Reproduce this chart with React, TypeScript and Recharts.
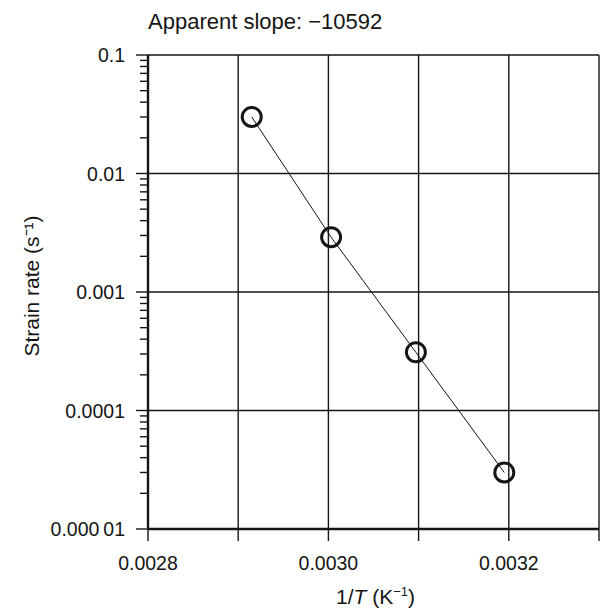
import React from "react";
import {
  LineChart, Line, XAxis, YAxis, CartesianGrid, ReferenceLine,
} from "recharts";

// measured points: 1/T (K^-1) vs strain rate (s^-1)
const invT = [0.002915, 0.003003, 0.003097, 0.003195];
const strainRate = [0.03, 0.0029, 0.00031, 0.00003];

const xTicks = [0.0028, 0.0029, 0.003, 0.0031, 0.0032, 0.0033];
const xTickLabels = ["0.0028", "", "0.0030", "", "0.0032", ""];

const yDecades = [0.00001, 0.0001, 0.001, 0.01, 0.1];
const yTickLabels = ["0.000\u200901", "0.0001", "0.001", "0.01", "0.1"];

const title = "Apparent slope: \u221210592";
const yTitle = "Strain rate (s\u207B\u00B9)";

const FONT = '"Liberation Sans", Arial, sans-serif';
const INK = "#151515";

const data = invT.map((x, i) => ({ invT: x, rate: strainRate[i] }));

// decade majors plus 2..9 minors, only for the tick marks
const yAllTicks: number[] = [];
yDecades.forEach((d, i) => {
  yAllTicks.push(d);
  if (i < yDecades.length - 1) {
    for (let m = 2; m <= 9; m++) yAllTicks.push(+(d * m).toPrecision(3));
  }
});

const TICK_SIZE = 20;
const TICK_MARGIN = 2;

function YTick({ x, y, payload }: any) {
  const idx = yDecades.findIndex((d) => Math.abs(d - payload.value) / d < 1e-6);
  const axisX = x + TICK_SIZE + TICK_MARGIN;
  const len = idx >= 0 ? 12 : 8;
  return (
    <g>
      <line x1={axisX - len} x2={axisX} y1={y} y2={y} stroke={INK} strokeWidth={1.4} />
      {idx >= 0 && (
        <text x={x - 1} y={y} dy="0.36em" textAnchor="end" fontSize={19.5} fontFamily={FONT} fill={INK}>
          {yTickLabels[idx]}
        </text>
      )}
    </g>
  );
}

function XTitle({ viewBox }: any) {
  const cx = viewBox.x + viewBox.width / 2 + 2;
  return (
    <text x={cx} y={604} textAnchor="middle" fontSize={21} fontFamily={FONT} fill={INK}>
      <tspan>1/</tspan>
      <tspan fontStyle="italic">T</tspan>
      <tspan> (K</tspan>
      <tspan fontSize={13} dy={-8}>{"\u2212"}1</tspan>
      <tspan dy={8}>)</tspan>
    </text>
  );
}

function YTitle({ viewBox }: any) {
  const cy = viewBox.y + viewBox.height / 2 - 6;
  return (
    <text
      x={31}
      y={cy}
      transform={`rotate(-90 31 ${cy})`}
      textAnchor="middle"
      dominantBaseline="central"
      fontSize={21}
      fontFamily={FONT}
      fill={INK}
    >
      {yTitle}
    </text>
  );
}

export default function App() {
  return (
    <div style={{ position: "absolute", left: 0, top: 0, width: 600, height: 608, background: "#fff" }}>
      <div
        style={{
          position: "absolute",
          left: 148,
          top: 11,
          fontFamily: FONT,
          fontSize: 22,
          lineHeight: "22px",
          color: INK,
          whiteSpace: "nowrap",
        }}
      >
        {title}
      </div>
      <LineChart width={600} height={608} data={data} margin={{ top: 55, right: 1, bottom: 0, left: 0 }}>
        <CartesianGrid horizontal={false} stroke={INK} strokeWidth={1.4} />
        {yDecades.map((d) => (
          <ReferenceLine key={d} y={d} stroke={INK} strokeWidth={1.4} />
        ))}
        <XAxis
          dataKey="invT"
          type="number"
          domain={[0.0028, 0.0033]}
          ticks={xTicks}
          interval={0}
          tickFormatter={(v: number) => {
            const i = xTicks.findIndex((t) => Math.abs(t - v) < 1e-9);
            return i >= 0 ? xTickLabels[i] : "";
          }}
          height={79}
          tickSize={12}
          tickMargin={15}
          axisLine={{ stroke: INK, strokeWidth: 2.4 }}
          tickLine={{ stroke: INK, strokeWidth: 1.4 }}
          tick={{ fill: INK, fontSize: 19.5, fontFamily: FONT }}
          label={<XTitle />}
        />
        <YAxis
          type="number"
          scale="log"
          domain={[0.00001, 0.1]}
          allowDataOverflow
          ticks={yAllTicks}
          interval={0}
          width={148}
          tickSize={TICK_SIZE}
          tickMargin={TICK_MARGIN}
          tickLine={false}
          axisLine={{ stroke: INK, strokeWidth: 2.4 }}
          tick={<YTick />}
          label={<YTitle />}
        />
        <Line
          dataKey="rate"
          type="linear"
          stroke={INK}
          strokeWidth={1}
          dot={{ r: 9.5, stroke: INK, strokeWidth: 3, fill: "none" }}
          isAnimationActive={false}
        />
      </LineChart>
    </div>
  );
}
